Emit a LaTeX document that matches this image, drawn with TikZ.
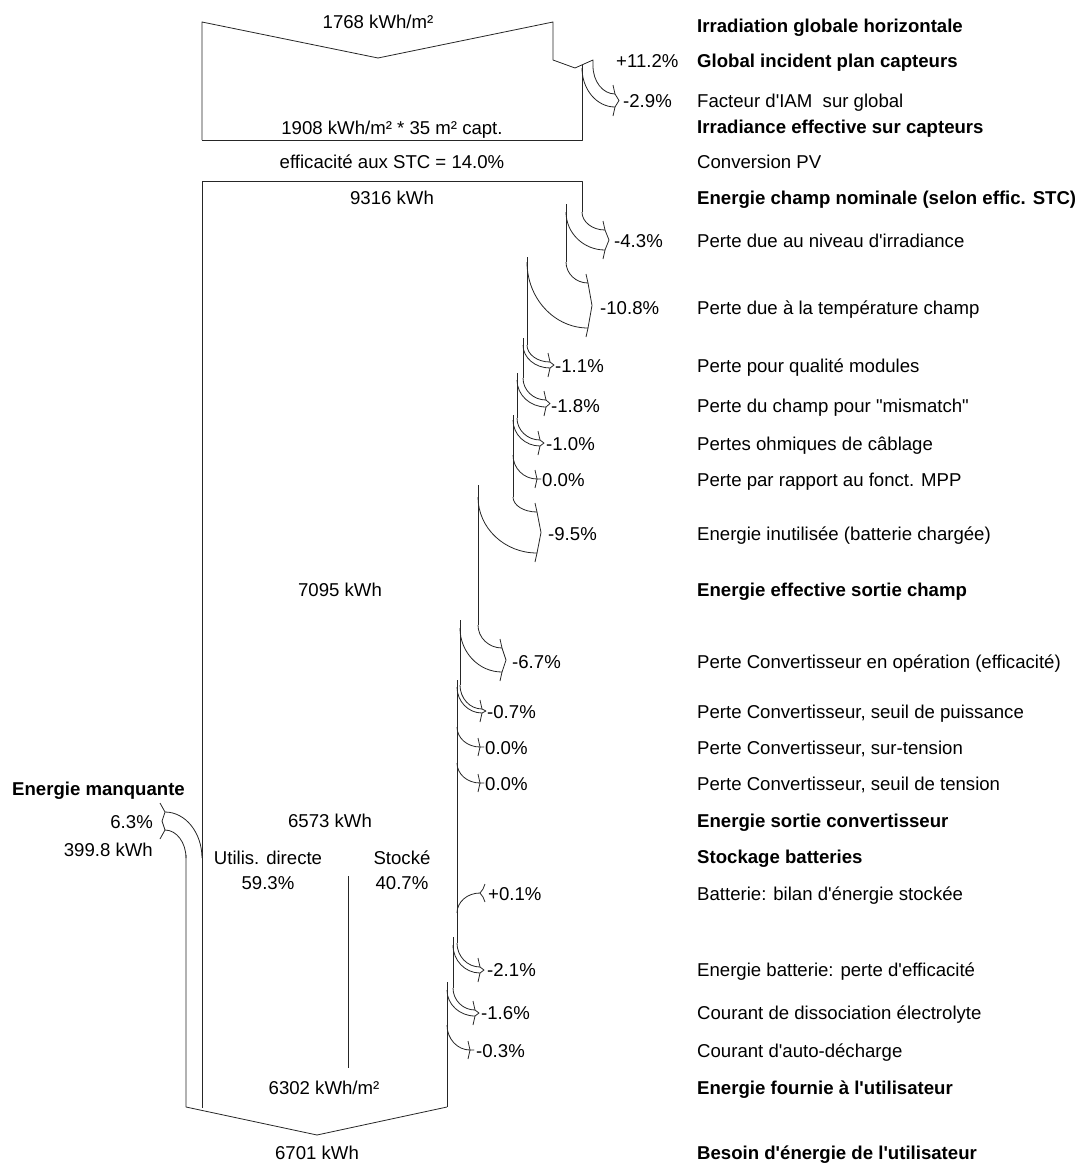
\documentclass[tikz,border=0pt]{standalone}
\usepackage{fontspec}
\setmainfont{Liberation Sans}[Ligatures=TeXOff]
\newcommand\myfs{\fontsize{18.6}{22}\selectfont}
\newcommand\qarc[4]{\draw[flow] (#1,#2) .. controls (#1,{#2+0.552*(#4-#2)}) and ({#3-0.552*(#3-#1)},#4) .. (#3,#4);}
\newcommand\rbr[3]{\draw[flow] ({#1-2},{#2-9}) -- (#1,#2) -- ({#1+4},{(#2+#3)/2}) -- (#1,#3) -- ({#1-2},{#3+9});}
\begin{document}
\begin{tikzpicture}[x=1pt,y=-1pt]
\tikzset{
  flow/.style={line width=0.8pt, draw=black!85, line join=round},
  lbl/.style={anchor=base west, inner sep=0pt, font=\myfs, text=black},
  lblb/.style={lbl, font=\myfs\bfseries},
  ctr/.style={anchor=base, inner sep=0pt, font=\myfs, text=black},
  rgt/.style={anchor=base east, inner sep=0pt, font=\myfs, text=black},
}
\useasboundingbox (0,0) rectangle (1077,1165);

% ---------- top box ----------
\draw[flow] (202,140) -- (202,22) -- (378,58) -- (553,22) -- (553,60) -- (575,68) -- (593,60) -- (593,66);
\draw[flow] (202,140) -- (582,140) -- (582,65);
\qarc{593}{66}{615}{94}
\qarc{582}{68}{615}{107}
\rbr{615}{94}{107}

% ---------- main flow ----------
\draw[flow] (202,181) -- (582,181) -- (582,212);
\draw[flow] (202,181) -- (202,1108);
\qarc{582}{212}{605}{230}
\draw[flow] (566,204) -- (566,262);
\qarc{566}{212}{605}{250}
\rbr{605}{230}{250}

\qarc{566}{262}{588}{283}
\draw[flow] (527,257) -- (527,345);
\qarc{527}{262}{588}{328}
\rbr{588}{283}{328}

\qarc{527}{345}{550}{362}
\draw[flow] (523,338) -- (523,378);
\qarc{523}{345}{550}{368}
\rbr{550}{362}{368}

\qarc{523}{378}{546}{400}
\draw[flow] (517,373) -- (517,418);
\qarc{517}{380}{546}{407}
\rbr{546}{400}{407}

\qarc{517}{418}{540}{440}
\draw[flow] (513,415) -- (513,497);
\qarc{513}{420}{540}{446}
\rbr{540}{440}{446}

\qarc{513}{455}{537}{479}
\rbr{537}{479}{479}

\qarc{513}{497}{537}{512}
\draw[flow] (478,485) -- (478,625);
\qarc{478}{497}{537}{553}
\rbr{537}{512}{553}

\qarc{478}{625}{502}{648}
\draw[flow] (460,620) -- (460,685);
\qarc{460}{628}{502}{672}
\rbr{502}{648}{672}

\qarc{460}{685}{482}{709}
\draw[flow] (457,680) -- (457,943);
\qarc{457}{687}{482}{713}
\rbr{482}{709}{713}

\qarc{457}{727}{480}{747}
\rbr{480}{747}{747}
\qarc{457}{763}{480}{783}
\rbr{480}{783}{783}

% gain +0.1%
\qarc{457}{913}{480}{893}
\draw[flow] (485,884) -- (483,889) -- (480,893) -- (483,897) -- (485,902);

\qarc{457}{943}{480}{967}
\draw[flow] (453,937) -- (453,988);
\qarc{453}{945}{480}{973}
\rbr{480}{967}{973}

\qarc{453}{988}{475}{1010}
\draw[flow] (447,982) -- (447,1107);
\qarc{447}{990}{475}{1016}
\rbr{475}{1010}{1016}

\qarc{447}{1025}{470}{1050}
\rbr{470}{1050}{1050}

% bottom chevron and left edge
\draw[flow] (447,1107) -- (317,1135) -- (186,1107) -- (186,855);
% Energie manquante
\qarc{202}{858}{165}{812}
\qarc{186}{858}{165}{830}
\draw[flow] (160,803) -- (165,812) -- (162,821) -- (165,830) -- (160,839);
% divider
\draw[flow] (348,876) -- (348,1068);

% ---------- flow texts ----------
\node[ctr] (t1768) at (378,28) {1768 kWh/m²};
\node[ctr] (t1908) at (392,134) {1908 kWh/m² * 35 m² capt.};
\node[ctr] (teff) at (392,168) {efficacité aux STC = 14.0\%};
\node[ctr] (t9316) at (392,204) {9316 kWh};
\node[ctr] (t7095) at (340,596) {7095 kWh};
\node[ctr] (t6573) at (330,827) {6573 kWh};
\node[ctr] (tud) at (268,864) {Utilis. directe};
\node[ctr] (tudp) at (268,889) {59.3\%};
\node[ctr] (tst) at (402,864) {Stocké};
\node[ctr] (tstp) at (402,889) {40.7\%};
\node[ctr] (t6302) at (324,1094) {6302 kWh/m²};
\node[ctr] (t6701) at (317,1159) {6701 kWh};
\node[lblb] (tman) at (12,795) {Energie manquante};
\node[rgt] (tmanp) at (153,828) {6.3\%};
\node[rgt] (tmank) at (153,856) {399.8 kWh};

% ---------- percentages ----------
\node[lbl] (p1) at (616,67) {+11.2\%};
\node[lbl] (p2) at (623,107) {-2.9\%};
\node[lbl] (p3) at (614,247) {-4.3\%};
\node[lbl] (p4) at (600,314) {-10.8\%};
\node[lbl] (p5) at (555,372) {-1.1\%};
\node[lbl] (p6) at (551,412) {-1.8\%};
\node[lbl] (p7) at (546,450) {-1.0\%};
\node[lbl] (p8) at (542,486) {0.0\%};
\node[lbl] (p9) at (548,540) {-9.5\%};
\node[lbl] (p10) at (512,668) {-6.7\%};
\node[lbl] (p11) at (487,718) {-0.7\%};
\node[lbl] (p12) at (485,754) {0.0\%};
\node[lbl] (p13) at (485,790) {0.0\%};
\node[lbl] (p14) at (488,900) {+0.1\%};
\node[lbl] (p15) at (487,976) {-2.1\%};
\node[lbl] (p16) at (481,1019) {-1.6\%};
\node[lbl] (p17) at (476,1057) {-0.3\%};

% ---------- right column ----------
\node[lblb] (r1) at (697,32) {Irradiation globale horizontale};
\node[lblb] (r2) at (697,67) {Global incident plan capteurs};
\node[lbl] (r3) at (697,107) {Facteur d'IAM\ \ sur global};
\node[lblb] (r4) at (697,133) {Irradiance effective sur capteurs};
\node[lbl] (r5) at (697,168) {Conversion PV};
\node[lblb] (r6) at (697,204) {Energie champ nominale (selon effic. STC)};
\node[lbl] (r7) at (697,247) {Perte due au niveau d'irradiance};
\node[lbl] (r8) at (697,314) {Perte due à la température champ};
\node[lbl] (r9) at (697,372) {Perte pour qualité modules};
\node[lbl] (r10) at (697,412) {Perte du champ pour "mismatch"};
\node[lbl] (r11) at (697,450) {Pertes ohmiques de câblage};
\node[lbl] (r12) at (697,486) {Perte par rapport au fonct. MPP};
\node[lbl] (r13) at (697,540) {Energie inutilisée (batterie chargée)};
\node[lblb] (r14) at (697,596) {Energie effective sortie champ};
\node[lbl] (r15) at (697,668) {Perte Convertisseur en opération (efficacité)};
\node[lbl] (r16) at (697,718) {Perte Convertisseur, seuil de puissance};
\node[lbl] (r17) at (697,754) {Perte Convertisseur, sur-tension};
\node[lbl] (r18) at (697,790) {Perte Convertisseur, seuil de tension};
\node[lblb] (r19) at (697,827) {Energie sortie convertisseur};
\node[lblb] (r20) at (697,863) {Stockage batteries};
\node[lbl] (r21) at (697,900) {Batterie: bilan d'énergie stockée};
\node[lbl] (r22) at (697,976) {Energie batterie: perte d'efficacité};
\node[lbl] (r23) at (697,1019) {Courant de dissociation électrolyte};
\node[lbl] (r24) at (697,1057) {Courant d'auto-décharge};
\node[lblb] (r25) at (697,1094) {Energie fournie à l'utilisateur};
\node[lblb] (r26) at (697,1159) {Besoin d'énergie de l'utilisateur};
\end{tikzpicture}
\end{document}
